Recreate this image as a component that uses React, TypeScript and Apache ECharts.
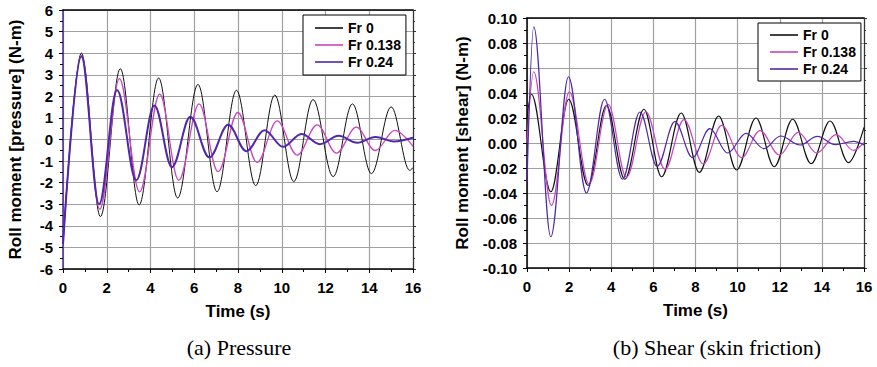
import React, { useEffect, useRef } from "react";
import * as echarts from "echarts";

// Time (s) ticks
const timeTicks = [0, 2, 4, 6, 8, 10, 12, 14, 16];
const seriesNames = ["Fr 0", "Fr 0.138", "Fr 0.24"];

// (a) Pressure: roll moment [N-m], extrema [t, value]
const pressureFr0: [number, number][] = [
  [0, -4.85], [0.84, 4.0], [1.71, -3.57], [2.62, 3.28], [3.48, -3.03], [4.37, 2.85],
  [5.24, -2.71], [6.17, 2.55], [7.04, -2.42], [7.93, 2.28], [8.81, -2.14], [9.68, 2.06],
  [10.55, -1.95], [11.43, 1.85], [12.35, -1.72], [13.23, 1.65], [14.1, -1.58],
  [15.0, 1.51], [15.85, -1.43], [16, -1.3],
];
const pressureFr0138: [number, number][] = [
  [0, -4.85], [0.84, 3.9], [1.68, -3.23], [2.58, 2.82], [3.5, -2.43], [4.42, 2.1],
  [5.29, -1.89], [6.22, 1.65], [7.09, -1.49], [7.99, 1.25], [8.87, -1.06], [9.79, 0.86],
  [10.7, -0.72], [11.62, 0.68], [12.5, -0.63], [13.41, 0.57], [14.27, -0.51],
  [15.17, 0.42], [16, -0.32],
];
const pressureFr024: [number, number][] = [
  [0, -4.85], [0.84, 3.85], [1.65, -3.0], [2.47, 2.29], [3.35, -1.89], [4.18, 1.58],
  [4.98, -1.28], [5.82, 1.05], [6.69, -0.83], [7.55, 0.68], [8.38, -0.54], [9.21, 0.43],
  [10.06, -0.34], [10.9, 0.26], [11.74, -0.22], [12.6, 0.17], [13.45, -0.15],
  [14.28, 0.12], [15.12, -0.09], [16, 0.08],
];

// (b) Shear: roll moment [N-m]
const shearFr0: [number, number][] = [
  [0, 0.02], [0.21, 0.039], [1.13, -0.039], [1.98, 0.035], [2.9, -0.034], [3.77, 0.03],
  [4.64, -0.029], [5.55, 0.027], [6.39, -0.027], [7.32, 0.024], [8.18, -0.0235],
  [9.1, 0.0216], [9.95, -0.0216], [10.87, 0.02], [11.74, -0.019], [12.61, 0.019],
  [13.49, -0.0165], [14.39, 0.0176], [15.26, -0.0157], [16, 0.0125],
];
const shearFr0138: [number, number][] = [
  [0, 0.0], [0.32, 0.057], [1.16, -0.05], [2.01, 0.041], [2.95, -0.033], [3.85, 0.031],
  [4.72, -0.0275], [5.64, 0.025], [6.55, -0.021], [7.45, 0.0187], [8.37, -0.0168],
  [9.24, 0.0141], [10.19, -0.0117], [11.06, 0.0099], [11.98, -0.0096], [12.88, 0.0085],
  [13.76, -0.008], [14.68, 0.0067], [15.5, -0.0059], [16, 0.0005],
];
const shearFr024: [number, number][] = [
  [0, -0.031], [0.32, 0.093], [1.13, -0.075], [1.97, 0.053], [2.82, -0.04], [3.68, 0.035],
  [4.53, -0.029], [5.36, 0.0248], [6.18, -0.0187], [7.02, 0.0171], [7.86, -0.0117],
  [8.68, 0.0115], [9.52, -0.008], [10.4, 0.0077], [11.25, -0.0045], [12.04, 0.0056],
  [12.96, -0.0016], [13.79, 0.0053], [14.63, -0.0013], [15.5, 0.0013], [16, -0.0016],
];

const FONT = '"Liberation Sans", Arial, sans-serif';
const SERIF = '"Liberation Serif", "Times New Roman", serif';
const COLORS = ["#111111", "#c846be", "#5028a8"];

function xAxisMain(gridIndex: number) {
  return {
    type: "value",
    gridIndex,
    min: timeTicks[0],
    max: timeTicks[timeTicks.length - 1],
    interval: timeTicks[1] - timeTicks[0],
    name: "Time (s)",
    nameLocation: "middle",
    nameGap: 34,
    nameTextStyle: { fontFamily: FONT, fontWeight: "bold", fontSize: 17, color: "#000" },
    axisLine: { onZero: false, lineStyle: { color: "#000", width: 1.5 } },
    axisTick: { show: true, inside: false, length: 4, lineStyle: { color: "#000" } },
    minorTick: { show: true, splitNumber: 2, length: 3, lineStyle: { color: "#000" } },
    axisLabel: { fontFamily: FONT, fontWeight: "bold", fontSize: 15, color: "#000", margin: 11 },
    splitLine: { show: true, lineStyle: { color: "#a0a0a0", width: 1.2 } },
  };
}
function xAxisTop(gridIndex: number) {
  return {
    type: "value",
    gridIndex,
    position: "top",
    min: 0,
    max: 16,
    interval: 2,
    axisLine: { onZero: false, lineStyle: { color: "#000", width: 1.5 } },
    axisTick: { show: false },
    axisLabel: { show: false },
    splitLine: { show: false },
  };
}

export default function App() {
  const ref = useRef<HTMLDivElement>(null);
  useEffect(() => {
    if (!ref.current) return;
    const chart = echarts.init(ref.current, undefined, { renderer: "svg" });
    const fmtShear = (v: number) => (Math.abs(v) < 1e-9 ? "0.00" : v.toFixed(2));
    const mkSeries = (
      data: [number, number][],
      i: number,
      axis: number,
      width: number
    ) => ({
      type: "line",
      name: seriesNames[i],
      xAxisIndex: axis * 2,
      yAxisIndex: axis * 2,
      data,
      symbol: "none",
      smooth: 0.36,
      smoothMonotone: "x",
      lineStyle: { color: COLORS[i], width },
      itemStyle: { color: COLORS[i] },
      animation: false,
    });
    const legendBase = {
      orient: "vertical",
      icon: "rect",
      itemWidth: 28,
      itemHeight: 1.6,
      itemGap: 3,
      backgroundColor: "#fff",
      borderColor: "#000",
      borderWidth: 1,
      borderRadius: 0,
      selectedMode: false,
      data: seriesNames,
      textStyle: {
        fontFamily: FONT,
        fontWeight: "bold",
        fontSize: 14,
        lineHeight: 14,
        color: "#000",
      },
    };
    chart.setOption({
      animation: false,
      backgroundColor: "#fff",
      grid: [
        { left: 63, top: 10, width: 350, height: 259, containLabel: false },
        { left: 527, top: 18, width: 337, height: 250, containLabel: false },
      ],
      xAxis: [xAxisMain(0), xAxisTop(0), xAxisMain(1), xAxisTop(1)],
      yAxis: [
        {
          type: "value",
          gridIndex: 0,
          min: -6,
          max: 6,
          interval: 1,
          name: "Roll moment [pressure] (N-m)",
          nameLocation: "middle",
          nameGap: 39,
          nameTextStyle: { fontFamily: FONT, fontWeight: "bold", fontSize: 17, color: "#000" },
          axisLine: { onZero: false, lineStyle: { color: "#4a2a9e", width: 1.5 } },
          axisTick: { show: true, inside: false, length: 4, lineStyle: { color: "#000" } },
          minorTick: { show: true, splitNumber: 2, length: 3, lineStyle: { color: "#000" } },
          axisLabel: { fontFamily: FONT, fontWeight: "bold", fontSize: 15, color: "#000", margin: 10 },
          splitLine: { show: true, lineStyle: { color: "#a0a0a0", width: 1.2 } },
        },
        {
          type: "value",
          gridIndex: 0,
          position: "right",
          min: -6,
          max: 6,
          interval: 1,
          axisLine: { onZero: false, lineStyle: { color: "#333", width: 1.2 } },
          axisTick: { show: true, inside: false, length: 3, lineStyle: { color: "#333" } },
          minorTick: { show: true, splitNumber: 2, length: 2, lineStyle: { color: "#333" } },
          axisLabel: { show: false },
          splitLine: { show: false },
        },
        {
          type: "value",
          gridIndex: 1,
          min: -0.1,
          max: 0.1,
          interval: 0.02,
          name: "Roll moment [shear] (N-m)",
          nameLocation: "middle",
          nameGap: 56,
          nameTextStyle: { fontFamily: FONT, fontWeight: "bold", fontSize: 17, color: "#000" },
          axisLine: { onZero: false, lineStyle: { color: "#000", width: 1.5 } },
          axisTick: { show: true, inside: false, length: 4, lineStyle: { color: "#000" } },
          minorTick: { show: true, splitNumber: 2, length: 3, lineStyle: { color: "#000" } },
          axisLabel: {
            fontFamily: FONT,
            fontWeight: "bold",
            fontSize: 15,
            color: "#000",
            margin: 10,
            formatter: fmtShear,
          },
          splitLine: { show: true, lineStyle: { color: "#a0a0a0", width: 1.2 } },
        },
        {
          type: "value",
          gridIndex: 1,
          position: "right",
          min: -0.1,
          max: 0.1,
          interval: 0.02,
          axisLine: { onZero: false, lineStyle: { color: "#333", width: 1.2 } },
          axisTick: { show: true, inside: false, length: 3, lineStyle: { color: "#333" } },
          minorTick: { show: true, splitNumber: 2, length: 2, lineStyle: { color: "#333" } },
          axisLabel: { show: false },
          splitLine: { show: false },
        },
      ],
      legend: [
        { ...legendBase, left: 303, top: 15, padding: [6, 5, 6, 12] },
        { ...legendBase, left: 758, top: 23, padding: [5, 5, 5, 12] },
      ],
      series: [
        mkSeries(pressureFr0, 0, 0, 1),
        mkSeries(pressureFr0138, 1, 0, 1.3),
        mkSeries(pressureFr024, 2, 0, 2),
        mkSeries(shearFr0, 0, 1, 1.2),
        mkSeries(shearFr0138, 1, 1, 1.2),
        mkSeries(shearFr024, 2, 1, 1.2),
      ],
      graphic: [
        {
          type: "text",
          x: 239,
          y: 347,
          style: {
            text: "(a) Pressure",
            fontFamily: SERIF,
            fontSize: 22,
            fill: "#000",
            align: "center",
            verticalAlign: "middle",
          },
        },
        {
          type: "text",
          x: 717,
          y: 347,
          style: {
            text: "(b) Shear (skin friction)",
            fontFamily: SERIF,
            fontSize: 22,
            fill: "#000",
            align: "center",
            verticalAlign: "middle",
          },
        },
      ],
    });
    return () => chart.dispose();
  }, []);
  return (
    <div
      ref={ref}
      style={{ position: "absolute", left: 0, top: 0, width: 877, height: 367, background: "#fff" }}
    />
  );
}
